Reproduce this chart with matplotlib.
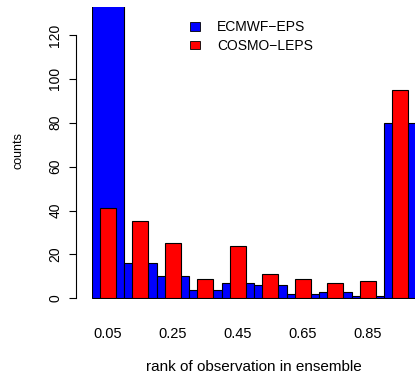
import matplotlib
matplotlib.use("Agg")
import matplotlib.pyplot as plt
from matplotlib.patches import Patch

plt.rcParams['font.family'] = ['Liberation Sans', 'DejaVu Sans']
plt.rcParams['font.size'] = 10

# rank histogram counts, 10 bins on [0, 1]
bin_centers = [0.05, 0.15, 0.25, 0.35, 0.45, 0.55, 0.65, 0.75, 0.85, 0.95]
ecmwf_counts = [135, 16, 10, 4, 7, 6, 2, 3, 1, 80]
cosmo_counts = [41, 35, 25, 9, 24, 11, 9, 7, 8, 95]
xtick_pos = [0.05, 0.25, 0.45, 0.65, 0.85]
xtick_labels = ["0.05", "0.25", "0.45", "0.65", "0.85"]
ytick_pos = [0, 20, 40, 60, 80, 100, 120]

W, H = 415, 373
fig = plt.figure(figsize=(W / 100, H / 100), dpi=100)

# axes placed in pixels: x=0 at 91.5px, 0.1 per 32.5px; y=0 at 298.3px, 2.195px per count
ylo, yhi = -0.5, 132.7
ppu = 2.195
left = 91.5 / W
width = 325 / W
bottom = (H - (298.3 - ylo * ppu)) / H
height = (yhi - ylo) * ppu / H
ax = fig.add_axes([left, bottom, width, height])

ax.bar(bin_centers, ecmwf_counts, width=0.1, color='blue', edgecolor='black',
       linewidth=0.8, label='ECMWF\u2212EPS')
ax.bar(bin_centers, cosmo_counts, width=0.05, color='red', edgecolor='black',
       linewidth=0.8, label='COSMO\u2212LEPS')

ax.set_xlim(0, 1)
ax.set_ylim(ylo, yhi)

for s in ['top', 'right', 'bottom']:
    ax.spines[s].set_visible(False)
ax.spines['left'].set_bounds(0, 120)
ax.spines['left'].set_position(('outward', 11))
ax.spines['left'].set_linewidth(0.8)

ax.set_xticks(xtick_pos)
ax.set_xticklabels(xtick_labels, fontsize=10.5)
ax.tick_params(axis='x', length=0, pad=20)
ax.set_yticks(ytick_pos)
ax.set_yticklabels([str(v) for v in ytick_pos], rotation=90, va='center')
ax.tick_params(axis='y', length=5, width=0.8, pad=5)

fig.text(253.4 / W, 1 - 367 / H, 'rank of observation in ensemble',
         ha='center', va='center', fontsize=11)
fig.text(18 / W, 1 - 150 / H, 'counts', rotation=90, ha='center', va='center',
         fontsize=9)

handles = [Patch(facecolor='blue', edgecolor='black', linewidth=0.6),
           Patch(facecolor='red', edgecolor='black', linewidth=0.6)]
ax.legend(handles, ['ECMWF\u2212EPS', 'COSMO\u2212LEPS'], loc='upper left',
          bbox_to_anchor=(190 / W, 1 - 20 / H), bbox_transform=fig.transFigure,
          frameon=False, handlelength=0.75, handleheight=0.6,
          handletextpad=1.2, labelspacing=0.35, borderpad=0, borderaxespad=0)

fig.savefig('out.png', dpi=100)
